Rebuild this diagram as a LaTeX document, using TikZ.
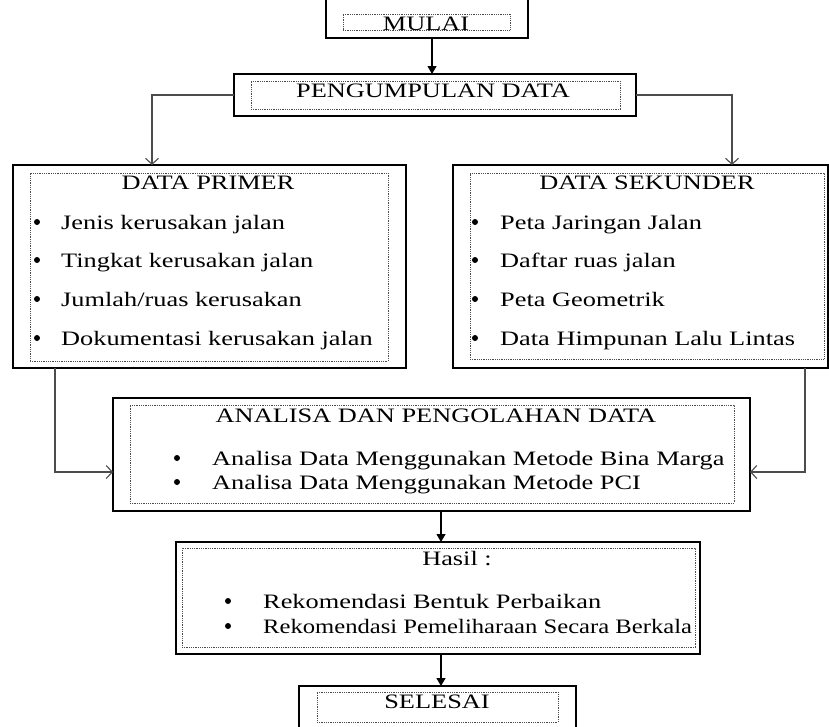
\documentclass[tikz,border=0pt]{standalone}
\usepackage{fontspec}
\setmainfont{Liberation Serif}[FakeStretch=1.285]
\usetikzlibrary{arrows.meta}
\begin{document}
\begin{tikzpicture}[x=1pt,y=-1pt,
  outer/.style={draw=black, line width=1.4pt, rectangle, inner sep=0pt, outer sep=0pt},
  innerbox/.style={draw=gray!60!black, line width=0.9pt, dash pattern=on 0.9pt off 0.9pt, rectangle, inner sep=0pt, outer sep=0pt},
  txt/.style={font=\fontsize{20.5}{24}\selectfont, inner sep=0pt, anchor=base west},
  ttl/.style={font=\fontsize{20.5}{24}\selectfont, inner sep=0pt, anchor=base},
  bul/.style={circle, fill=black, inner sep=0pt, minimum size=6pt},
  farr/.style={black, line width=1.1pt, -{Triangle[length=8pt,width=9pt]}},
  oarr/.style={gray!60!black, line width=1.2pt, -{Straight Barb[length=6pt,width=13pt,line width=1.1pt]}},
]
\useasboundingbox (0,0) rectangle (829,726);
\clip (0,0) rectangle (829,726);
\fill[white] (0,0) rectangle (829,726);

% outer boxes
\node[outer, minimum width=202pt, minimum height=48pt] (mulai) at (427,14) {};
\node[outer, minimum width=402pt, minimum height=42pt] (peng) at (435,95) {};
\node[outer, minimum width=393pt, minimum height=203pt] (prim) at (209.5,266.5) {};
\node[outer, minimum width=375pt, minimum height=203pt] (sek) at (640.5,266.5) {};
\node[outer, minimum width=637pt, minimum height=113pt] (ana) at (431.5,454.5) {};
\node[outer, minimum width=524pt, minimum height=112pt] (has) at (438,598) {};
\node[outer, minimum width=277pt, minimum height=54pt] (sel) at (437.5,713) {};

% inner dotted boxes
\node[innerbox, minimum width=167pt, minimum height=16pt] (mulaiin) at (426.5,22) {};
\node[innerbox, minimum width=369pt, minimum height=28pt] (pengin) at (435.5,95) {};
\node[innerbox, minimum width=358pt, minimum height=188pt] (primin) at (209,267) {};
\node[innerbox, minimum width=354pt, minimum height=186pt] (sekin) at (647,266) {};
\node[innerbox, minimum width=604pt, minimum height=98pt] (anain) at (432,454) {};
\node[innerbox, minimum width=513pt, minimum height=99pt] (hasin) at (438.5,597.5) {};
\node[innerbox, minimum width=241pt, minimum height=30pt] (selin) at (437.5,707) {};

% titles
\node[ttl] (tmulai) at (426,30.5) {MULAI};
\node[ttl] (tpeng) at (433,97) {PENGUMPULAN DATA};
\node[ttl] (tprim) at (208,189) {DATA PRIMER};
\node[ttl] (tsek) at (647,189) {DATA SEKUNDER};
\node[ttl] (tana) at (436,422) {ANALISA DAN PENGOLAHAN DATA};
\node[ttl] (thas) at (457,565) {Hasil :};
\node[ttl] (tsel) at (437,708) {SELESAI};

% data primer items
\node[bul] (bp1) at (37,222) {};
\node[bul] (bp2) at (37,260) {};
\node[bul] (bp3) at (37,299) {};
\node[bul] (bp4) at (37,338) {};
\node[txt] (ip1) at (61,229) {Jenis kerusakan jalan};
\node[txt] (ip2) at (61,267) {Tingkat kerusakan jalan};
\node[txt] (ip3) at (61,306) {Jumlah/ruas kerusakan};
\node[txt] (ip4) at (61,345) {Dokumentasi kerusakan jalan};

% data sekunder items
\node[bul] (bs1) at (475,222) {};
\node[bul] (bs2) at (475,260) {};
\node[bul] (bs3) at (475,299) {};
\node[bul] (bs4) at (475,338) {};
\node[txt] (is1) at (500,229) {Peta Jaringan Jalan};
\node[txt] (is2) at (500,267) {Daftar ruas jalan};
\node[txt] (is3) at (500,306) {Peta Geometrik};
\node[txt] (is4) at (500,345) {Data Himpunan Lalu Lintas};

% analisa items
\node[bul] (ba1) at (177,458) {};
\node[bul] (ba2) at (177,482) {};
\node[txt] (ia1) at (212,465) {Analisa Data Menggunakan Metode Bina Marga};
\node[txt] (ia2) at (212,489) {Analisa Data Menggunakan Metode PCI};

% hasil items
\node[bul] (bh1) at (228,601) {};
\node[bul] (bh2) at (228,626) {};
\node[txt] (ih1) at (263,608) {Rekomendasi Bentuk Perbaikan};
\node[txt] (ih2) at (263,633) {\scalebox{0.935}[1]{Rekomendasi Pemeliharaan Secara Berkala}};

% helper coordinates
\coordinate (c1) at (432,0);
\coordinate (cl) at (152,0);
\coordinate (cr) at (732,0);
\coordinate (cbl) at (55,0);
\coordinate (cbr) at (805,0);
\coordinate (ch) at (0,472);
\coordinate (cm) at (441,0);

% connectors
\draw[farr] (mulai.south -| c1) -- (peng.north -| c1);
\draw[oarr] (peng.west) -| (prim.north -| cl);
\draw[oarr] (peng.east) -| (sek.north -| cr);
\draw[oarr] (prim.south -| cbl) |- (ana.west |- ch);
\draw[oarr] (sek.south -| cbr) |- (ana.east |- ch);
\draw[farr] (ana.south -| cm) -- (has.north -| cm);
\draw[farr] (has.south -| cm) -- (sel.north -| cm);
\end{tikzpicture}
\end{document}
